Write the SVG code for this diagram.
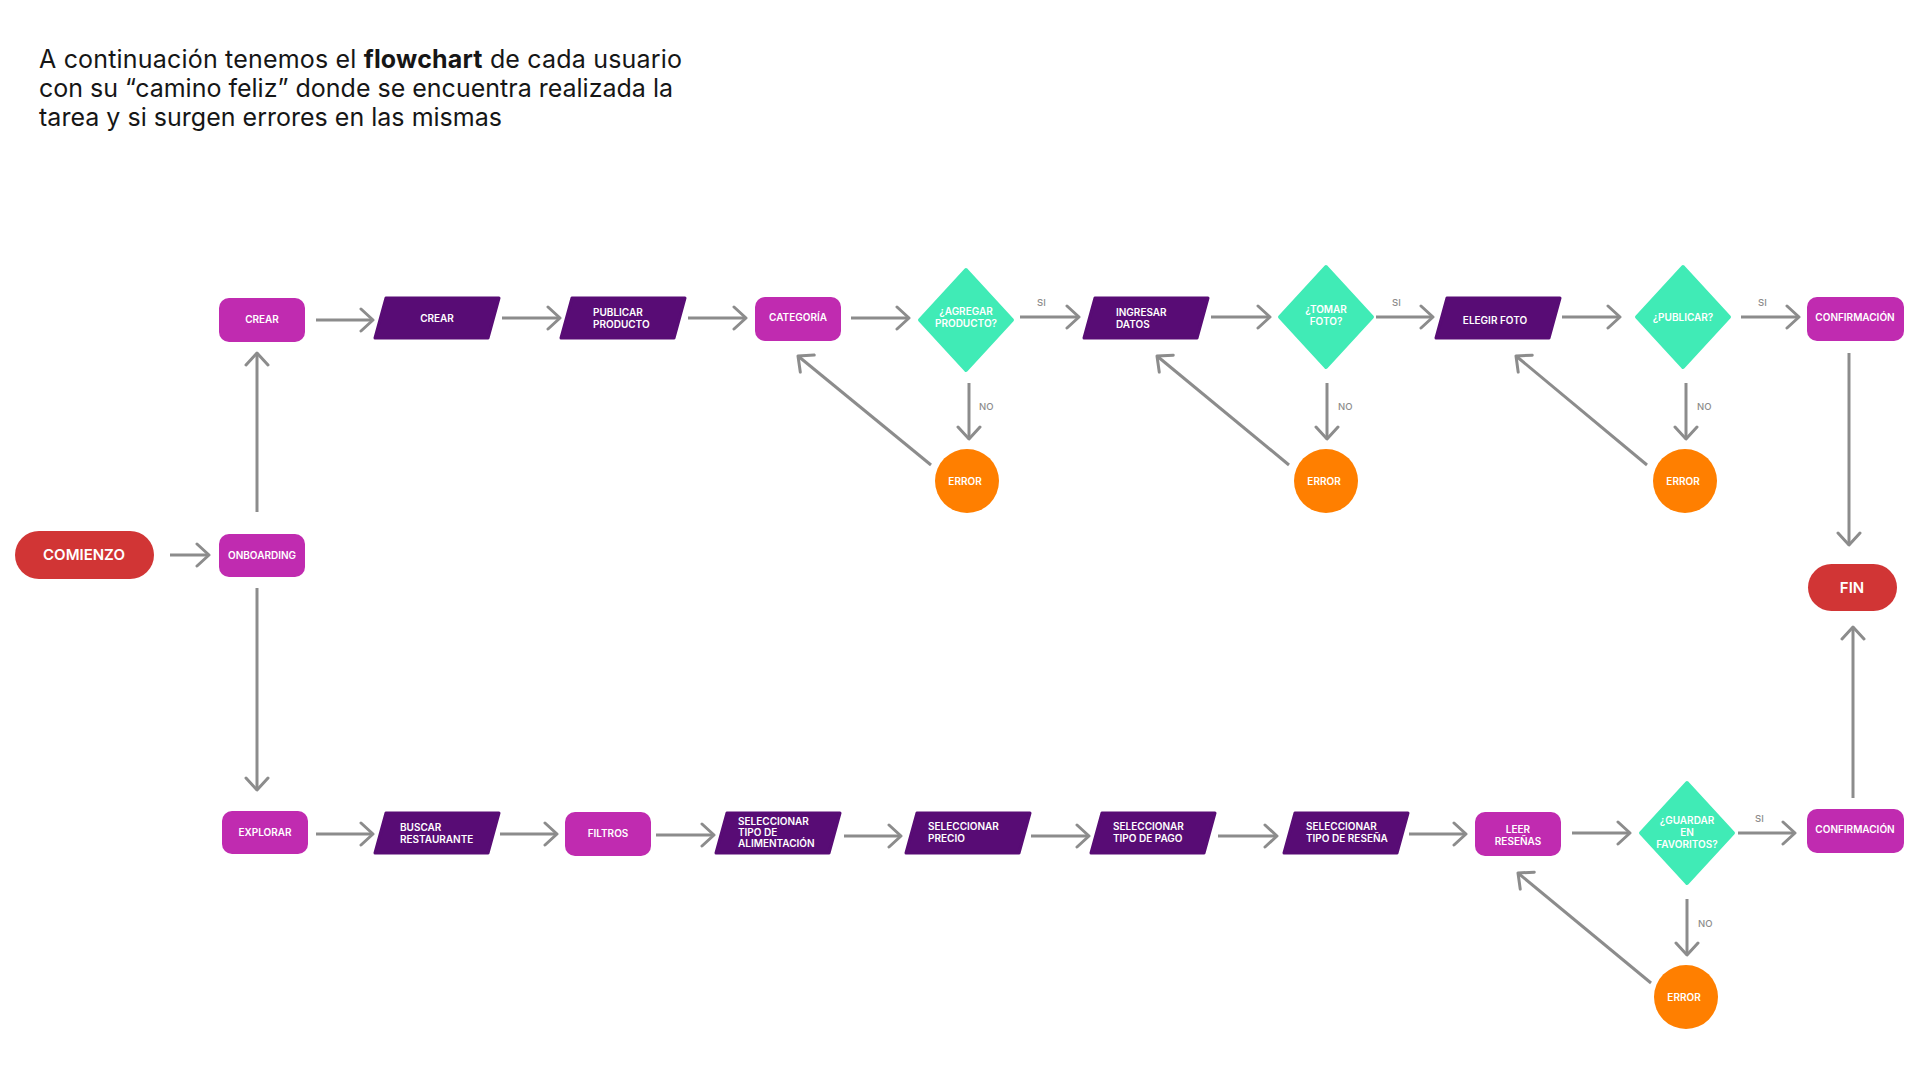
<svg xmlns="http://www.w3.org/2000/svg" width="1920" height="1080" viewBox="0 0 1920 1080">
<defs>
<style>
.title{font-family:Inter,"Liberation Sans",sans-serif;font-size:25px;fill:#161616}
.t{font-family:Inter,"Liberation Sans",sans-serif;font-size:10px;font-weight:600;fill:#ffffff}
.tc{text-anchor:middle}
.big{font-size:15px}
.lbl{font-family:Inter,"Liberation Sans",sans-serif;font-size:9.5px;font-weight:500;fill:#8c8c8c}
.pink{fill:#c02bb0}
.purple{fill:#580c75;stroke:#580c75;stroke-width:3;stroke-linejoin:round}
.teal{fill:#40ebb6;stroke:#40ebb6;stroke-width:4;stroke-linejoin:round}
.orange{fill:#ff7f00}
.red{fill:#d13535}
.edge line{stroke:#8c8c8c;stroke-width:3;fill:none;marker-end:url(#ah)}
</style>
<marker id="ah" viewBox="0 0 16 26" refX="14" refY="13" markerWidth="16" markerHeight="26" markerUnits="userSpaceOnUse" orient="auto">
<path d="M2,2 L14,13 L2,24" fill="none" stroke="#8c8c8c" stroke-width="3" stroke-linecap="round" stroke-linejoin="round"/>
</marker>
<polygon id="para" points="-51,-20 62,-20 51,20 -62,20"/>
<polygon id="dia" points="0,-50 46,0 0,50 -46,0"/>
</defs>
<rect width="1920" height="1080" fill="#ffffff"/>

<g id="title">
<text class="title" x="39" y="68" textLength="643" lengthAdjust="spacing">A continuación tenemos el <tspan font-weight="700">flowchart</tspan> de cada usuario</text>
<text class="title" x="39" y="97" textLength="634" lengthAdjust="spacing">con su “camino feliz” donde se encuentra realizada la</text>
<text class="title" x="39" y="126" textLength="463" lengthAdjust="spacing">tarea y si surgen errores en las mismas</text>
</g>

<g id="connectors" class="edge">
<line x1="316" y1="320" x2="373" y2="320"/>
<line x1="502" y1="318" x2="560" y2="318"/>
<line x1="688" y1="318" x2="746" y2="318"/>
<line x1="851" y1="318" x2="909" y2="318"/>
<line x1="1020" y1="317" x2="1079" y2="317"/>
<line x1="1211" y1="317" x2="1270" y2="317"/>
<line x1="1376" y1="317" x2="1433" y2="317"/>
<line x1="1562" y1="317" x2="1620" y2="317"/>
<line x1="1741" y1="317" x2="1799" y2="317"/>
<line x1="1849" y1="353" x2="1849" y2="545"/>
<line x1="969" y1="383" x2="969" y2="439"/>
<line x1="1327" y1="383" x2="1327" y2="439"/>
<line x1="1686" y1="383" x2="1686" y2="439"/>
<line x1="931" y1="465" x2="798" y2="356"/>
<line x1="1289" y1="465" x2="1157" y2="356"/>
<line x1="1647" y1="465" x2="1516" y2="356"/>
<line x1="170" y1="555" x2="209" y2="555"/>
<line x1="257" y1="512" x2="257" y2="353"/>
<line x1="257" y1="588" x2="257" y2="790"/>
<line x1="316" y1="834" x2="373" y2="834"/>
<line x1="500" y1="834" x2="557" y2="834"/>
<line x1="656" y1="835" x2="714" y2="835"/>
<line x1="844" y1="836" x2="901" y2="836"/>
<line x1="1031" y1="836" x2="1089" y2="836"/>
<line x1="1218" y1="836" x2="1277" y2="836"/>
<line x1="1409" y1="834" x2="1466" y2="834"/>
<line x1="1572" y1="833" x2="1630" y2="833"/>
<line x1="1738" y1="833" x2="1795" y2="833"/>
<line x1="1853" y1="798" x2="1853" y2="627"/>
<line x1="1687" y1="899" x2="1687" y2="955"/>
<line x1="1651" y1="983" x2="1518" y2="873"/>
<text class="lbl" x="1037" y="306">SI</text>
<text class="lbl" x="1392" y="306">SI</text>
<text class="lbl" x="1758" y="306">SI</text>
<text class="lbl" x="979" y="410">NO</text>
<text class="lbl" x="1338" y="410">NO</text>
<text class="lbl" x="1697" y="410">NO</text>
<text class="lbl" x="1755" y="822">SI</text>
<text class="lbl" x="1698" y="927">NO</text>
</g>

<g id="n-comienzo"><rect class="red" x="15" y="531" width="139" height="48" rx="24"/><text class="t tc big" x="84" y="560">COMIENZO</text></g>
<g id="n-onboarding"><rect class="pink" x="219" y="534" width="86" height="43" rx="10"/><text class="t tc" x="262" y="559">ONBOARDING</text></g>
<g id="n-crear1"><rect class="pink" x="219" y="298" width="86" height="44" rx="10"/><text class="t tc" x="262" y="323">CREAR</text></g>
<g id="n-crear2" transform="translate(437,318)"><use href="#para" class="purple"/><text class="t tc" x="0" y="3.5">CREAR</text></g>
<g id="n-publicar" transform="translate(623,318)"><use href="#para" class="purple"/><text class="t" x="-30" y="-2">PUBLICAR</text><text class="t" x="-30" y="10">PRODUCTO</text></g>
<g id="n-categoria"><rect class="pink" x="755" y="297" width="86" height="44" rx="10"/><text class="t tc" x="798" y="321">CATEGORÍA</text></g>
<g id="n-agregar" transform="translate(966,320)"><use href="#dia" class="teal"/><text class="t tc" x="0" y="-5">¿AGREGAR</text><text class="t tc" x="0" y="7">PRODUCTO?</text></g>
<g id="n-error1"><circle class="orange" cx="967" cy="481" r="32"/><text class="t tc" x="965" y="485">ERROR</text></g>
<g id="n-ingresar" transform="translate(1146,318)"><use href="#para" class="purple"/><text class="t" x="-30" y="-2">INGRESAR</text><text class="t" x="-30" y="10">DATOS</text></g>
<g id="n-tomar" transform="translate(1326,317)"><use href="#dia" class="teal"/><text class="t tc" x="0" y="-4">¿TOMAR</text><text class="t tc" x="0" y="8">FOTO?</text></g>
<g id="n-error2"><circle class="orange" cx="1326" cy="481" r="32"/><text class="t tc" x="1324" y="485">ERROR</text></g>
<g id="n-elegir" transform="translate(1498,318)"><use href="#para" class="purple"/><text class="t tc" x="-3" y="6">ELEGIR FOTO</text></g>
<g id="n-publicar-q" transform="translate(1683,317)"><use href="#dia" class="teal"/><text class="t tc" x="0" y="3.5">¿PUBLICAR?</text></g>
<g id="n-error3"><circle class="orange" cx="1685" cy="481" r="32"/><text class="t tc" x="1683" y="485">ERROR</text></g>
<g id="n-confirmacion1"><rect class="pink" x="1807" y="297" width="97" height="44" rx="10"/><text class="t tc" x="1855" y="321">CONFIRMACIÓN</text></g>
<g id="n-fin"><rect class="red" x="1808" y="564" width="89" height="47" rx="23.5"/><text class="t tc big" x="1852" y="593">FIN</text></g>

<g id="n-explorar"><rect class="pink" x="222" y="811" width="86" height="43" rx="10"/><text class="t tc" x="265" y="836">EXPLORAR</text></g>
<g id="n-buscar" transform="translate(437,833)"><use href="#para" class="purple"/><text class="t" x="-37" y="-2">BUSCAR</text><text class="t" x="-37" y="10">RESTAURANTE</text></g>
<g id="n-filtros"><rect class="pink" x="565" y="812" width="86" height="44" rx="10"/><text class="t tc" x="608" y="837">FILTROS</text></g>
<g id="n-alimentacion" transform="translate(778,833)"><use href="#para" class="purple"/><text class="t" x="-40" y="-8">SELECCIONAR</text><text class="t" x="-40" y="3">TIPO DE</text><text class="t" x="-40" y="14">ALIMENTACIÓN</text></g>
<g id="n-precio" transform="translate(968,833)"><use href="#para" class="purple"/><text class="t" x="-40" y="-3">SELECCIONAR</text><text class="t" x="-40" y="9">PRECIO</text></g>
<g id="n-pago" transform="translate(1153,833)"><use href="#para" class="purple"/><text class="t" x="-40" y="-3">SELECCIONAR</text><text class="t" x="-40" y="9">TIPO DE PAGO</text></g>
<g id="n-resena" transform="translate(1346,833)"><use href="#para" class="purple"/><text class="t" x="-40" y="-3">SELECCIONAR</text><text class="t" x="-40" y="9">TIPO DE RESEÑA</text></g>
<g id="n-leer"><rect class="pink" x="1475" y="812" width="86" height="44" rx="10"/><text class="t tc" x="1518" y="833">LEER</text><text class="t tc" x="1518" y="845">RESEÑAS</text></g>
<g id="n-guardar" transform="translate(1687,833)"><use href="#dia" class="teal"/><text class="t tc" x="0" y="-9">¿GUARDAR</text><text class="t tc" x="0" y="3">EN</text><text class="t tc" x="0" y="15">FAVORITOS?</text></g>
<g id="n-error4"><circle class="orange" cx="1686" cy="997" r="32"/><text class="t tc" x="1684" y="1001">ERROR</text></g>
<g id="n-confirmacion2"><rect class="pink" x="1807" y="809" width="97" height="44" rx="10"/><text class="t tc" x="1855" y="833">CONFIRMACIÓN</text></g>
</svg>
